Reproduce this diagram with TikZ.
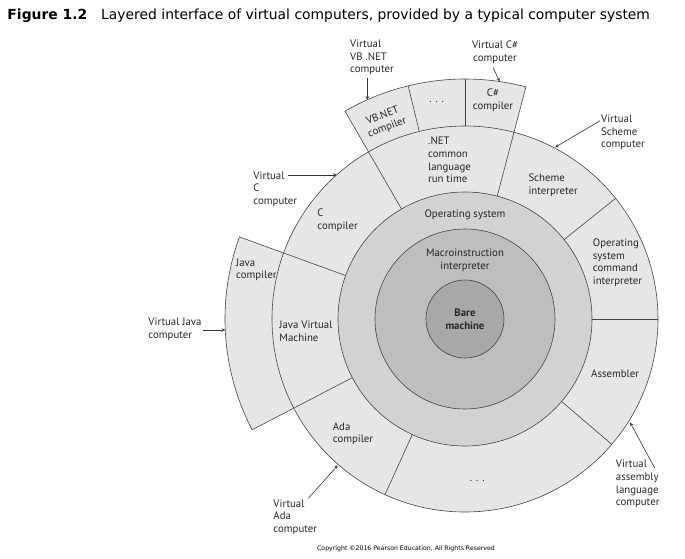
\documentclass[tikz,border=0pt]{standalone}
\usepackage{fontspec}
\setmainfont{PT Sans}
\newfontfamily\titlefont{DejaVu Sans}
\definecolor{ringfill}{HTML}{E6E6E6}
\definecolor{osfill}{HTML}{D2D2D2}
\definecolor{macrofill}{HTML}{BEBEBE}
\definecolor{barefill}{HTML}{A8A8A8}
\definecolor{edge}{HTML}{454545}

\begin{document}
\begin{tikzpicture}[x=1pt, y=1pt,
    part/.style={draw=edge, line width=0.6pt},
    lbl/.style={font=\fontsize{10.8}{12.6}\selectfont, align=left, inner sep=0pt, text=black!85},
    mid/.style={lbl, align=center},
    pointer/.style={draw=black!80, line width=0.6pt, -stealth}
]
    \useasboundingbox (-465,-240) rectangle (220,319);
    % Outer wedges: Java compiler on the left, .NET compilers on top
    \filldraw[part, fill=ringfill] (160:193) -- (160:240) arc[start angle=160, end angle=207.5, radius=240] -- (207.5:193) -- cycle;
    \filldraw[part, fill=ringfill] (75.3:193) -- (75.3:240) arc[start angle=75.3, end angle=120, radius=240] -- (120:193) -- cycle;
    \foreach \a in {90, 103.7} {
        \draw[part] (\a:193) -- (\a:240);
    }
    % Ring of virtual computers and its divisions
    \filldraw[part, fill=ringfill] (0,0) circle[radius=193];
    \foreach \a in {0, 38.7, 75.3, 120, 160, 207.5, 245.5, 319.5} {
        \draw[part] (\a:127) -- (\a:193);
    }
    % Inner layers
    \filldraw[part, fill=osfill] (0,0) circle[radius=127];
    \filldraw[part, fill=macrofill] (0,0) circle[radius=90];
    \filldraw[part, fill=barefill] (0,0) circle[radius=39];

    % Title and copyright
    \node[anchor=base west, inner sep=0pt, font=\titlefont\bfseries\fontsize{13.9}{16}\selectfont] (fig) at (-457.7,299.7) {Figure 1.2};
    \node[anchor=base west, inner sep=0pt, font=\titlefont\fontsize{13.9}{16}\selectfont] (caption) at (-364,299.7) {Layered interface of virtual computers, provided by a typical computer system};
    \node[anchor=base, inner sep=0pt, font=\titlefont\fontsize{6.2}{7}\selectfont] (copy) at (-59,-231.7) {Copyright \textcopyright 2016 Pearson Education, All Rights Reserved};

    % Layer labels
    \node[mid, font=\bfseries\fontsize{10.8}{12.6}\selectfont] (bare) at (0,0) {Bare\\machine};
    \node[mid] (macro) at (0,59) {Macroinstruction\\interpreter};
    \node[mid] (os) at (0,104) {Operating system};
    \node[lbl, anchor=west] (net) at (-37,159) {.NET\\common\\language\\run time};
    \node[lbl, anchor=west] (scheme) at (63.3,133.5) {Scheme\\interpreter};
    \node[lbl, anchor=west] (oscmd) at (127.7,56.2) {Operating\\system\\command\\interpreter};
    \node[lbl, anchor=west] (asm) at (126,-54.3) {Assembler};
    \node[mid] (lowdots) at (12.3,-161.7) {. . .};
    \node[lbl, anchor=west] (ada) at (-132.3,-114.8) {Ada\\compiler};
    \node[lbl, anchor=west] (jvm) at (-185.7,-12) {Java Virtual\\Machine};
    \node[lbl, anchor=west] (java) at (-229,49.3) {Java\\compiler};
    \node[lbl, anchor=west] (c) at (-147.7,99) {C\\compiler};
    \node[mid, rotate=21] (vbnet) at (-80,197.3) {VB.NET\\compiler};
    \node[mid] (topdots) at (-28.3,217.3) {. . .};
    \node[mid] (csharp) at (28,219) {C\#\\compiler};

    % Virtual computers, pointing at their layers
    \coordinate (vbtip) at (114:240);
    \coordinate (cstip) at (81.7:240);
    \coordinate (schemetip) at (62.3:194);
    \coordinate (ctip) at (131.7:193);
    \coordinate (javatip) at (182.6:240);
    \coordinate (asmtip) at (-32.1:195);
    \coordinate (adatip) at (229:194);
    \node[lbl, anchor=west] (vbvc) at (-115,261.5) {Virtual\\VB .NET\\computer};
    \node[mid] (csvc) at (30,267) {Virtual C\#\\computer};
    \node[lbl, anchor=west] (schemevc) at (136,186.5) {Virtual\\Scheme\\computer};
    \node[lbl, anchor=west] (cvc) at (-211.7,130) {Virtual\\C\\computer};
    \node[lbl, anchor=west] (javavc) at (-316.7,-10.3) {Virtual Java\\computer};
    \node[lbl, anchor=west] (asmvc) at (150.7,-165) {Virtual\\assembly\\language\\computer};
    \node[lbl, anchor=west] (adavc) at (-191.7,-198) {Virtual\\Ada\\computer};
    \draw[pointer] ([yshift=-3pt]vbvc.south -| vbtip) -- (vbtip);
    \draw[pointer] ([xshift=-2pt,yshift=-4pt]csvc.south) -- (cstip);
    \draw[pointer] ([xshift=-1pt,yshift=-6pt]schemevc.north west) -- (schemetip);
    \draw[pointer] ([xshift=35pt]cvc.west |- ctip) -- (ctip);
    \draw[pointer] ([xshift=1pt]javavc.east |- javatip) -- (javatip);
    \draw[pointer] ([xshift=39pt,yshift=-8pt]asmvc.north west) -- (asmtip);
    \draw[pointer] ([xshift=35pt,yshift=1pt]adavc.north west) -- (adatip);
\end{tikzpicture}
\end{document}
